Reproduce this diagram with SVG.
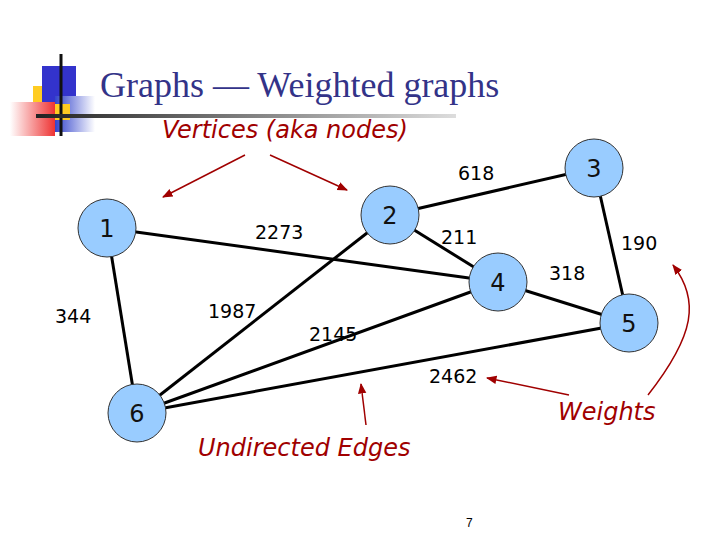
<svg xmlns="http://www.w3.org/2000/svg" width="720" height="540" viewBox="0 0 720 540">
<style>
.n{fill:#99ccff;stroke:#333;stroke-width:1}
.nt{font-family:"DejaVu Sans",sans-serif;font-size:24px;fill:#111;text-anchor:middle}
.w{font-family:"DejaVu Sans",sans-serif;font-size:19px;fill:#000}
.e{stroke:#000;stroke-width:3;fill:none}
.a{stroke:#a00000;stroke-width:1.5;fill:none;marker-end:url(#ar)}
.r{font-family:"DejaVu Sans",sans-serif;font-style:italic;font-size:24px;fill:#a00000}
</style>
<defs>
<marker id="ar" viewBox="0 0 10 10" refX="9" refY="5" markerWidth="7" markerHeight="7" orient="auto"><path d="M0,1 L10,5 L0,9z" fill="#a00000"/></marker>
<linearGradient id="rg" x1="0" x2="1"><stop offset="0" stop-color="#fff"/><stop offset="1" stop-color="#e33"/></linearGradient>
<linearGradient id="bg" x1="0" x2="1"><stop offset="0" stop-color="#3344cc"/><stop offset="1" stop-color="#fff"/></linearGradient>
<linearGradient id="lg" x1="0" x2="1"><stop offset="0" stop-color="#222"/><stop offset="1" stop-color="#ddd"/></linearGradient>
</defs>
<rect width="720" height="540" fill="#fff"/>
<g id="logo">
<rect x="33" y="86" width="22" height="36" fill="#ffcc22"/>
<rect x="42" y="66" width="34" height="44" fill="#3333cc"/>
<rect x="10" y="102" width="45" height="34" fill="url(#rg)"/>
<rect x="55" y="96" width="40" height="36" fill="url(#bg)"/>
<rect x="55" y="104" width="15" height="16" fill="#ffcc22"/>
<line x1="61" y1="54" x2="61" y2="136" stroke="#111" stroke-width="3"/>
<rect x="36" y="114" width="420" height="4" fill="url(#lg)"/>
</g>
<text x="100" y="97" font-family="Liberation Serif,serif" font-size="36" fill="#333388">Graphs — Weighted graphs</text>
<g id="connectors">
<line class="e" x1="107" y1="228" x2="498" y2="282"/>
<line class="e" x1="107" y1="228" x2="137" y2="413"/>
<line class="e" x1="390" y1="215" x2="137" y2="413"/>
<line class="e" x1="390" y1="215" x2="594" y2="168"/>
<line class="e" x1="390" y1="215" x2="498" y2="282"/>
<line class="e" x1="594" y1="168" x2="629" y2="323"/>
<line class="e" x1="498" y1="282" x2="629" y2="323"/>
<line class="e" x1="498" y1="282" x2="137" y2="413"/>
<line class="e" x1="629" y1="323" x2="137" y2="413"/>
</g>
<g id="n1"><circle class="n" cx="107" cy="228" r="29"/><text class="nt" x="107" y="237">1</text></g>
<g id="n2"><circle class="n" cx="390" cy="215" r="29"/><text class="nt" x="390" y="224">2</text></g>
<g id="n3"><circle class="n" cx="594" cy="168" r="29"/><text class="nt" x="594" y="177">3</text></g>
<g id="n4"><circle class="n" cx="498" cy="282" r="29"/><text class="nt" x="498" y="291">4</text></g>
<g id="n5"><circle class="n" cx="629" cy="323" r="29"/><text class="nt" x="629" y="332">5</text></g>
<g id="n6"><circle class="n" cx="137" cy="413" r="29"/><text class="nt" x="137" y="422">6</text></g>
<g id="weights">
<text class="w" x="255" y="239">2273</text>
<text class="w" x="458" y="180">618</text>
<text class="w" x="441" y="244">211</text>
<text class="w" x="621" y="250">190</text>
<text class="w" x="549" y="280">318</text>
<text class="w" x="55" y="323">344</text>
<text class="w" x="208" y="318">1987</text>
<text class="w" x="309" y="341">2145</text>
<text class="w" x="429" y="383">2462</text>
</g>
<g id="annotations">
<text class="r" x="162" y="138">Vertices (aka nodes)</text>
<line class="a" x1="245" y1="155" x2="163" y2="197"/>
<line class="a" x1="270" y1="155" x2="347" y2="190"/>
<text class="r" x="558" y="420">Weights</text>
<line class="a" x1="569" y1="395" x2="487" y2="378"/>
<path class="a" d="M648,395 C695,335 700,300 673,265"/>
<text class="r" x="198" y="456">Undirected Edges</text>
<line class="a" x1="366" y1="425" x2="361" y2="384"/>
</g>
<text x="466" y="527" font-family="Liberation Sans,sans-serif" font-size="12" fill="#000">7</text>
</svg>
